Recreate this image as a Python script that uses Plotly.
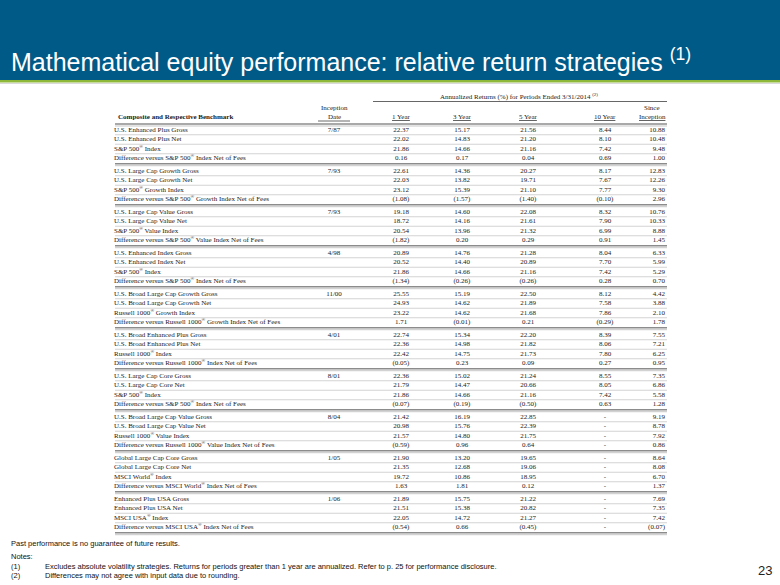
import plotly.graph_objects as go

# ---------------- data ----------------
title_text = "Mathematical equity performance: relative return strategies"
header_group = "Annualized Returns (%) for Periods Ended 3/31/2014"
col_headers = ["1 Year", "3 Year", "5 Year", "10 Year"]

R = "<sup>®</sup>"
labels = [
    "U.S. Enhanced Plus Gross", "U.S. Enhanced Plus Net", f"S&P 500{R} Index",
    f"Difference versus S&P 500{R} Index Net of Fees",
    "U.S. Large Cap Growth Gross", "U.S. Large Cap Growth Net", f"S&P 500{R} Growth Index",
    f"Difference versus S&P 500{R} Growth Index Net of Fees",
    "U.S. Large Cap Value Gross", "U.S. Large Cap Value Net", f"S&P 500{R} Value Index",
    f"Difference versus S&P 500{R} Value Index Net of Fees",
    "U.S. Enhanced Index Gross", "U.S. Enhanced Index Net", f"S&P 500{R} Index",
    f"Difference versus S&P 500{R} Index Net of Fees",
    "U.S. Broad Large Cap Growth Gross", "U.S. Broad Large Cap Growth Net", f"Russell 1000{R} Growth Index",
    f"Difference versus Russell 1000{R} Growth Index Net of Fees",
    "U.S. Broad Enhanced Plus Gross", "U.S. Broad Enhanced Plus Net", f"Russell 1000{R} Index",
    f"Difference versus Russell 1000{R} Index Net of Fees",
    "U.S. Large Cap Core Gross", "U.S. Large Cap Core Net", f"S&P 500{R} Index",
    f"Difference versus S&P 500{R} Index Net of Fees",
    "U.S. Broad Large Cap Value Gross", "U.S. Broad Large Cap Value Net", f"Russell 1000{R} Value Index",
    f"Difference versus Russell 1000{R} Value Index Net of Fees",
    "Global Large Cap Core Gross", "Global Large Cap Core Net", f"MSCI World{R} Index",
    f"Difference versus MSCI World{R} Index Net of Fees",
    "Enhanced Plus USA Gross", "Enhanced Plus USA Net", f"MSCI USA{R} Index",
    f"Difference versus MSCI USA{R} Index Net of Fees",
]

inception = ["7/87", "", "", "", "7/93", "", "", "", "7/93", "", "", "",
             "4/98", "", "", "", "11/00", "", "", "", "4/01", "", "", "",
             "8/01", "", "", "", "8/04", "", "", "", "1/05", "", "", "",
             "1/06", "", "", ""]

one_year = ["22.37", "22.02", "21.86", "0.16", "22.61", "22.03", "23.12", "(1.08)",
            "19.18", "18.72", "20.54", "(1.82)", "20.89", "20.52", "21.86", "(1.34)",
            "25.55", "24.93", "23.22", "1.71", "22.74", "22.36", "22.42", "(0.05)",
            "22.36", "21.79", "21.86", "(0.07)", "21.42", "20.98", "21.57", "(0.59)",
            "21.90", "21.35", "19.72", "1.63", "21.89", "21.51", "22.05", "(0.54)"]

three_year = ["15.17", "14.83", "14.66", "0.17", "14.36", "13.82", "15.39", "(1.57)",
              "14.60", "14.16", "13.96", "0.20", "14.76", "14.40", "14.66", "(0.26)",
              "15.19", "14.62", "14.62", "(0.01)", "15.34", "14.98", "14.75", "0.23",
              "15.02", "14.47", "14.66", "(0.19)", "16.19", "15.76", "14.80", "0.96",
              "13.20", "12.68", "10.86", "1.81", "15.75", "15.38", "14.72", "0.66"]

five_year = ["21.56", "21.20", "21.16", "0.04", "20.27", "19.71", "21.10", "(1.40)",
             "22.08", "21.61", "21.32", "0.29", "21.28", "20.89", "21.16", "(0.26)",
             "22.50", "21.89", "21.68", "0.21", "22.20", "21.82", "21.73", "0.09",
             "21.24", "20.66", "21.16", "(0.50)", "22.85", "22.39", "21.75", "0.64",
             "19.65", "19.06", "18.95", "0.12", "21.22", "20.82", "21.27", "(0.45)"]

ten_year = ["8.44", "8.10", "7.42", "0.69", "8.17", "7.67", "7.77", "(0.10)",
            "8.32", "7.90", "6.99", "0.91", "8.04", "7.70", "7.42", "0.28",
            "8.12", "7.58", "7.86", "(0.29)", "8.39", "8.06", "7.80", "0.27",
            "8.55", "8.05", "7.42", "0.63", "-", "-", "-", "-",
            "-", "-", "-", "-", "-", "-", "-", "-"]

since_inception = ["10.88", "10.48", "9.48", "1.00", "12.83", "12.26", "9.30", "2.96",
                   "10.76", "10.33", "8.88", "1.45", "6.33", "5.99", "5.29", "0.70",
                   "4.42", "3.88", "2.10", "1.78", "7.55", "7.21", "6.25", "0.95",
                   "7.35", "6.86", "5.58", "1.28", "9.19", "8.78", "7.92", "0.86",
                   "8.64", "8.08", "6.70", "1.37", "7.69", "7.35", "7.42", "(0.07)"]

footer_main = "Past performance is no guarantee of future results."
notes = [
    ("(1)", "Excludes absolute volatility strategies. Returns for periods greater than 1 year are annualized. Refer to p. 25 for performance disclosure."),
    ("(2)", "Differences may not agree with input data due to rounding."),
]
page_number = "23"

# ---------------- layout constants ----------------
W, H = 780, 585
BLUE = "#005a87"
GREEN = "#8db83a"
TXT = "#222222"
SERIF = "Liberation Serif"
SANS = "Liberation Sans"
FS = 7

X_LEFT, X_RIGHT = 115, 667
X_NAME = 117
X_INC = 334
X_COLS = [401, 462, 528, 605]
X_SI = 662
X_SI_HDR = 652

ROW0, GROUP_STEP, ROW_STEP = 130, 41, 9.5
n_rows = len(labels)
row_y = [ROW0 + (i // 4) * GROUP_STEP + (i % 4) * ROW_STEP for i in range(n_rows)]

fig = go.Figure()

def text_trace(xpos, texts, pos, ys=None):
    ys = row_y if ys is None else ys
    fig.add_trace(go.Scatter(
        x=[xpos] * len(texts), y=ys, mode="text", text=texts,
        textposition=pos, textfont=dict(family=SERIF, size=FS, color=TXT),
        hoverinfo="skip", showlegend=False, cliponaxis=False))

text_trace(X_NAME - 3, labels, "middle right")
inc_idx = [i for i, v in enumerate(inception) if v]
text_trace(X_INC, [inception[i] for i in inc_idx], "middle center", [row_y[i] for i in inc_idx])
for xc, col in zip(X_COLS, [one_year, three_year, five_year, ten_year]):
    text_trace(xc, col, "middle center")
text_trace(X_SI + 3, since_inception, "middle left")

shapes = []
# header band
shapes.append(dict(type="rect", xref="x", yref="y", x0=0, x1=W, y0=0, y1=80,
                   fillcolor=BLUE, line=dict(width=0), layer="below"))
shapes.append(dict(type="rect", xref="x", yref="y", x0=0, x1=W, y0=80, y1=82.5,
                   fillcolor=GREEN, line=dict(width=0), layer="below"))
shapes.append(dict(type="line", xref="x", yref="y", x0=0, x1=W, y0=83.5, y1=83.5,
                   line=dict(color="#d9d9d9", width=1)))

# thin row separators
for i in range(n_rows):
    if i % 4 != 3:
        yy = row_y[i] + ROW_STEP / 2
        shapes.append(dict(type="line", xref="x", yref="y", x0=X_LEFT, x1=X_RIGHT,
                           y0=yy, y1=yy, line=dict(color="#b5b5b5", width=0.6)))

# double separators (under header and after each group)
sep_ys = [row_y[0] - 6] + [row_y[i] + 5.2 for i in range(3, n_rows, 4)]
for yy in sep_ys:
    shapes.append(dict(type="line", xref="x", yref="y", x0=X_LEFT, x1=X_RIGHT,
                       y0=yy, y1=yy, line=dict(color="#8c8c8c", width=1.4)))
    shapes.append(dict(type="line", xref="x", yref="y", x0=X_LEFT, x1=X_RIGHT,
                       y0=yy + 2, y1=yy + 2, line=dict(color="#b0b0b0", width=0.7)))

# line under group header
shapes.append(dict(type="line", xref="x", yref="y", x0=373, x1=X_RIGHT, y0=101.5, y1=101.5,
                   line=dict(color="#666666", width=1)))
# underline under "Date"
shapes.append(dict(type="line", xref="x", yref="y", x0=X_INC - 16, x1=X_INC + 16, y0=121, y1=121,
                   line=dict(color="#444444", width=0.8)))

annotations = []
def ann(x, y, text, size, family=SANS, color=TXT, xanchor="left", yanchor="middle"):
    annotations.append(dict(x=x, y=y, xref="x", yref="y", text=text, showarrow=False,
                            xanchor=xanchor, yanchor=yanchor,
                            font=dict(family=family, size=size, color=color)))

# title
ann(9, 60, title_text + " <sup>(1)</sup>", 25, color="white")

# table header
HDR_Y = 116.5
ann(X_NAME - 1, HDR_Y, "<b>Composite and Respective Benchmark</b>", FS, family=SERIF)
ann(X_INC, HDR_Y - 9, "Inception", FS, family=SERIF, xanchor="center")
ann(X_INC, HDR_Y, "Date", FS, family=SERIF, xanchor="center")
for xc, h in zip(X_COLS, col_headers):
    ann(xc, HDR_Y, f"<u>{h}</u>", FS, family=SERIF, xanchor="center")
ann(X_SI_HDR, HDR_Y - 9, "Since", FS, family=SERIF, xanchor="center")
ann(X_SI_HDR, HDR_Y, "<u>Inception</u>", FS, family=SERIF, xanchor="center")
ann(519, 96.5, header_group + " <sup>(2)</sup>", FS, family=SERIF, xanchor="center")

# footer
FOOT_FS = 7.5
ann(9, 543, footer_main, FOOT_FS, color="#111111")
ann(9, 556, "Notes:", FOOT_FS, color="#111111")
for k, (num, txt) in enumerate(notes):
    yy = 566 + k * 9.5
    ann(9, yy, num, FOOT_FS, color="#111111")
    ann(43, yy, txt, FOOT_FS, color="#111111")
ann(774, 570, page_number, 13, color="#222222", xanchor="right")

fig.update_layout(
    width=W, height=H, margin=dict(l=0, r=0, t=0, b=0),
    paper_bgcolor="white", plot_bgcolor="white",
    xaxis=dict(range=[0, W], visible=False, fixedrange=True),
    yaxis=dict(range=[H, 0], visible=False, fixedrange=True),
    shapes=shapes, annotations=annotations, showlegend=False,
)

fig.write_html("out.html", config={"displayModeBar": False},
               post_script="document.body.style.margin='0px';document.body.style.overflow='hidden';")
